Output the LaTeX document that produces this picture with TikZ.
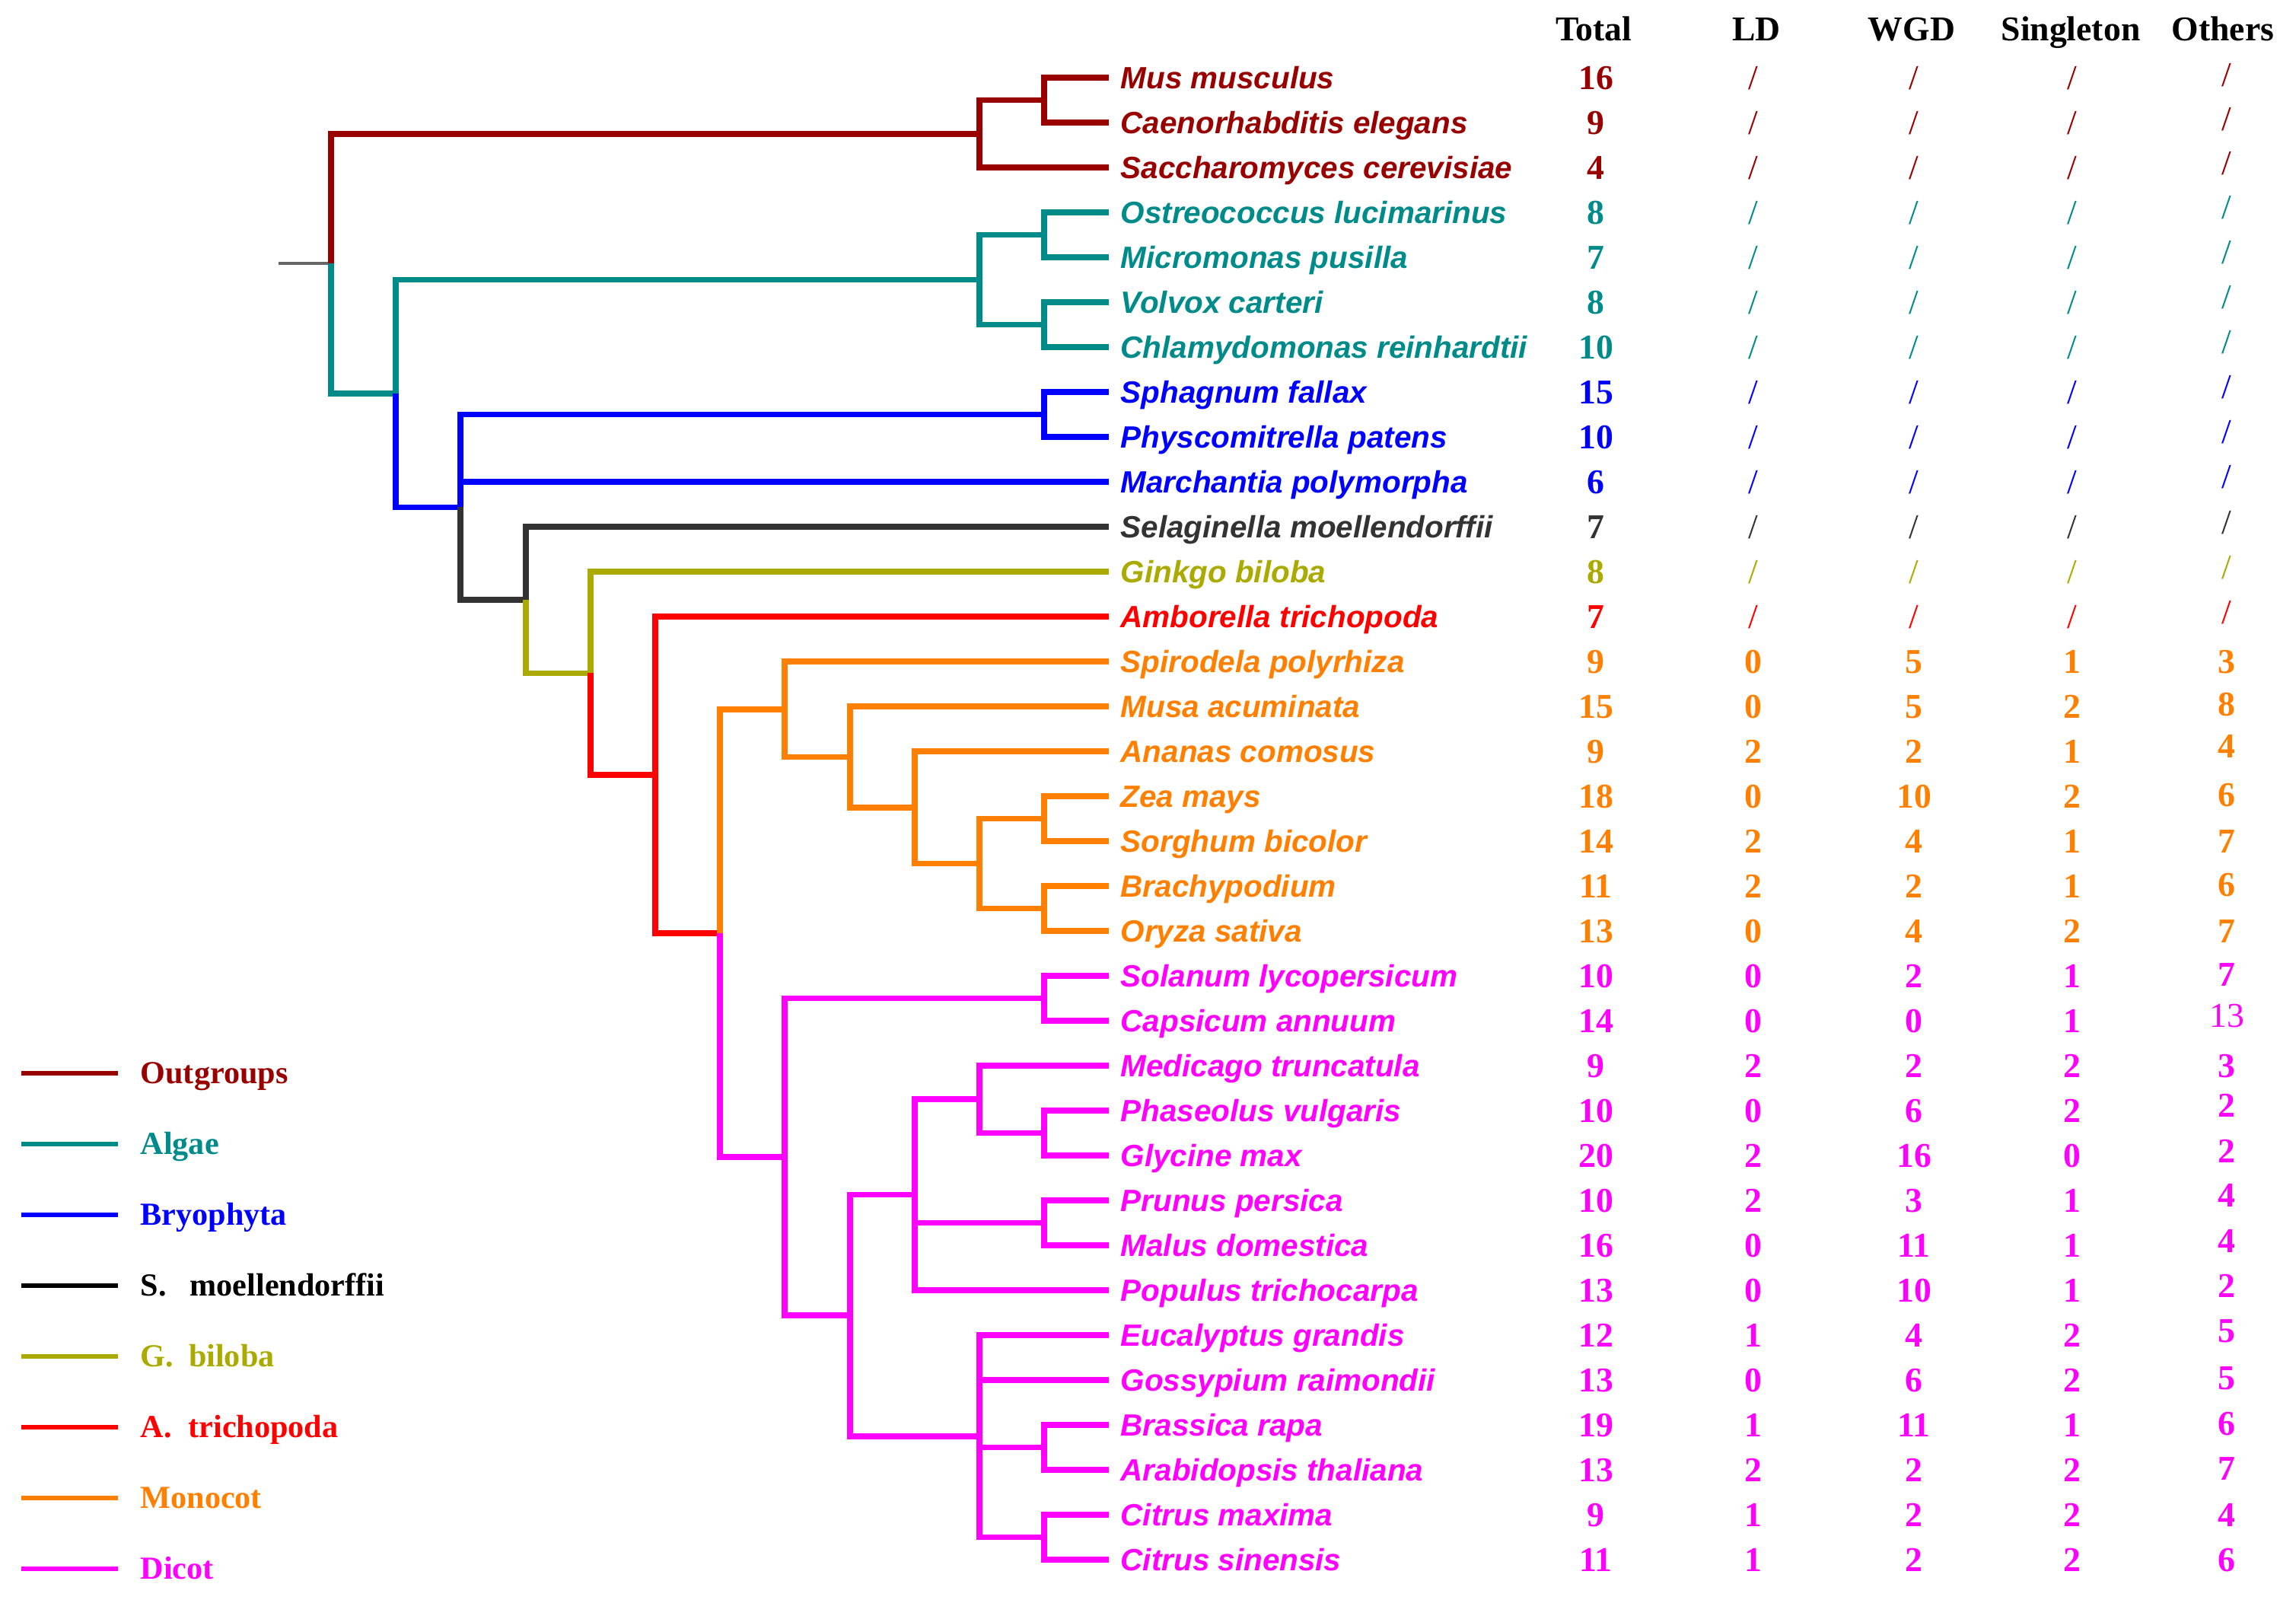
\documentclass[tikz,border=0pt]{standalone}
\usepackage{fontspec}
\setmainfont{Liberation Serif}
\newfontfamily\spfont{Liberation Sans}
\usepackage{tikz}
\usetikzlibrary{positioning}
\definecolor{outg}{RGB}{153,0,0}
\definecolor{alg}{RGB}{0,139,139}
\definecolor{bry}{RGB}{0,0,255}
\definecolor{sel}{RGB}{51,51,51}
\definecolor{gin}{RGB}{170,170,0}
\definecolor{amb}{RGB}{255,0,0}
\definecolor{mon}{RGB}{255,128,0}
\definecolor{dic}{RGB}{255,0,255}

\begin{document}
\begin{tikzpicture}
		[sp/.style		= {anchor=west, inner sep=0pt, inner xsep=1.5mm, font=\spfont\bfseries\itshape\fontsize{11.5}{13}\selectfont, text height=8.2pt, text depth=0pt},
		num/.style		= {inner sep=0pt, font=\bfseries\fontsize{13}{15}\selectfont, text height=8.8pt, text depth=0pt},
		nodat/.style	= {inner sep=0pt, font=\fontsize{13}{15}\selectfont, text height=8.8pt, text depth=0pt},
		head/.style		= {inner sep=0pt, font=\bfseries\fontsize{13}{15}\selectfont, text height=8.6pt, text depth=0pt},
		key/.style		= {anchor=west, inner sep=0pt, inner xsep=0.29cm, font=\bfseries\fontsize{12}{14}\selectfont, text height=7.9pt, text depth=0pt},
		br/.style		= {line width=2.2pt},
		keyline/.style	= {line width=1.8pt}]
		
		\fill[white] (0,0) rectangle (30.17,-21.02);
		\useasboundingbox (0,0) rectangle (30.17,-21.02);
		
		% species
		\node at (14.57,-1.02)	[sp, text=outg]	(s1)	{Mus musculus};
		\node at (14.57,-1.61)	[sp, text=outg]	(s2)	{Caenorhabditis elegans};
		\node at (14.57,-2.20)	[sp, text=outg]	(s3)	{Saccharomyces cerevisiae};
		\node at (14.57,-2.79)	[sp, text=alg]	(s4)	{Ostreococcus lucimarinus};
		\node at (14.57,-3.38)	[sp, text=alg]	(s5)	{Micromonas pusilla};
		\node at (14.57,-3.97)	[sp, text=alg]	(s6)	{Volvox carteri};
		\node at (14.57,-4.56)	[sp, text=alg]	(s7)	{Chlamydomonas reinhardtii};
		\node at (14.57,-5.15)	[sp, text=bry]	(s8)	{Sphagnum fallax};
		\node at (14.57,-5.74)	[sp, text=bry]	(s9)	{Physcomitrella patens};
		\node at (14.57,-6.33)	[sp, text=bry]	(s10)	{Marchantia polymorpha};
		\node at (14.57,-6.92)	[sp, text=sel]	(s11)	{Selaginella moellendorffii};
		\node at (14.57,-7.51)	[sp, text=gin]	(s12)	{Ginkgo biloba};
		\node at (14.57,-8.10)	[sp, text=amb]	(s13)	{Amborella trichopoda};
		\node at (14.57,-8.69)	[sp, text=mon]	(s14)	{Spirodela polyrhiza};
		\node at (14.57,-9.28)	[sp, text=mon]	(s15)	{Musa acuminata};
		\node at (14.57,-9.87)	[sp, text=mon]	(s16)	{Ananas comosus};
		\node at (14.57,-10.46)	[sp, text=mon]	(s17)	{Zea mays};
		\node at (14.57,-11.05)	[sp, text=mon]	(s18)	{Sorghum bicolor};
		\node at (14.57,-11.64)	[sp, text=mon]	(s19)	{Brachypodium};
		\node at (14.57,-12.23)	[sp, text=mon]	(s20)	{Oryza sativa};
		\node at (14.57,-12.82)	[sp, text=dic]	(s21)	{Solanum lycopersicum};
		\node at (14.57,-13.41)	[sp, text=dic]	(s22)	{Capsicum annuum};
		\node at (14.57,-14.00)	[sp, text=dic]	(s23)	{Medicago truncatula};
		\node at (14.57,-14.59)	[sp, text=dic]	(s24)	{Phaseolus vulgaris};
		\node at (14.57,-15.18)	[sp, text=dic]	(s25)	{Glycine max};
		\node at (14.57,-15.77)	[sp, text=dic]	(s26)	{Prunus persica};
		\node at (14.57,-16.36)	[sp, text=dic]	(s27)	{Malus domestica};
		\node at (14.57,-16.95)	[sp, text=dic]	(s28)	{Populus trichocarpa};
		\node at (14.57,-17.54)	[sp, text=dic]	(s29)	{Eucalyptus grandis};
		\node at (14.57,-18.13)	[sp, text=dic]	(s30)	{Gossypium raimondii};
		\node at (14.57,-18.72)	[sp, text=dic]	(s31)	{Brassica rapa};
		\node at (14.57,-19.31)	[sp, text=dic]	(s32)	{Arabidopsis thaliana};
		\node at (14.57,-19.90)	[sp, text=dic]	(s33)	{Citrus maxima};
		\node at (14.57,-20.49)	[sp, text=dic]	(s34)	{Citrus sinensis};
		
		% inner nodes of the tree
		\coordinate (stub)	at (3.66,-3.463);
		\coordinate (root)	at (4.35,-3.463);
		\coordinate (out)	at (12.87,-1.758);
		\coordinate (out1)	at (13.72,-1.315);
		\coordinate (c1)	at (5.20,-5.169);
		\coordinate (alga)	at (12.87,-3.675);
		\coordinate (alg1)	at (13.72,-3.085);
		\coordinate (alg2)	at (13.72,-4.265);
		\coordinate (c2)	at (6.05,-6.664);
		\coordinate (moss)	at (13.72,-5.445);
		\coordinate (c3)	at (6.91,-7.882);
		\coordinate (c4)	at (7.76,-8.844);
		\coordinate (ang)	at (8.61,-10.179);
		\coordinate (md)	at (9.46,-12.258);
		\coordinate (mono)	at (10.31,-9.317);
		\coordinate (mon1)	at (11.17,-9.944);
		\coordinate (mon2)	at (12.02,-10.608);
		\coordinate (mon3)	at (12.87,-11.345);
		\coordinate (mon4)	at (13.72,-10.755);
		\coordinate (mon5)	at (13.72,-11.935);
		\coordinate (dico)	at (10.31,-15.198);
		\coordinate (sol)	at (13.72,-13.115);
		\coordinate (dic1)	at (11.17,-17.282);
		\coordinate (ros1)	at (12.02,-15.696);
		\coordinate (fab)	at (12.87,-14.443);
		\coordinate (fab1)	at (13.72,-14.885);
		\coordinate (rsc)	at (13.72,-16.065);
		\coordinate (ros2)	at (12.87,-18.868);
		\coordinate (bra)	at (13.72,-19.015);
		\coordinate (cit)	at (13.72,-20.195);
		
		% branches
		\draw [line width=1.1pt, black!60] (stub) -- (root);
		\draw [br, outg] (root) |- (out) (out) |- (out1) (out1) |- (s1.west) (out1) |- (s2.west) (out) |- (s3.west);
		\draw [br, alg] (root) |- (c1) (c1) |- (alga) (alga) |- (alg1) (alga) |- (alg2) (alg1) |- (s4.west) (alg1) |- (s5.west) (alg2) |- (s6.west) (alg2) |- (s7.west);
		\draw [br, bry] (c1) |- (c2) (c2) |- (moss) (moss) |- (s8.west) (moss) |- (s9.west) (c2) |- (s10.west);
		\draw [br, sel] (c2) |- (c3) (c3) |- (s11.west);
		\draw [br, gin] (c3) |- (c4) (c4) |- (s12.west);
		\draw [br, amb] (c4) |- (ang) (ang) |- (s13.west) (ang) |- (md);
		\draw [br, mon] (md) |- (mono) (mono) |- (s14.west) (mono) |- (mon1) (mon1) |- (s15.west) (mon1) |- (mon2) (mon2) |- (s16.west) (mon2) |- (mon3) (mon3) |- (mon4) (mon3) |- (mon5) (mon4) |- (s17.west) (mon4) |- (s18.west) (mon5) |- (s19.west) (mon5) |- (s20.west);
		\draw [br, dic] (md) |- (dico) (dico) |- (sol) (sol) |- (s21.west) (sol) |- (s22.west) (dico) |- (dic1) (dic1) |- (ros1) (ros1) |- (fab) (fab) |- (s23.west) (fab) |- (fab1) (fab1) |- (s24.west) (fab1) |- (s25.west) (ros1) |- (rsc) (rsc) |- (s26.west) (rsc) |- (s27.west) (ros1) |- (s28.west);
		\draw [br, dic] (dic1) |- (ros2) (ros2) |- (s29.west) (ros2) |- (s30.west) (ros2) |- (bra) (bra) |- (s31.west) (bra) |- (s32.west) (ros2) |- (cit) (cit) |- (s33.west) (cit) |- (s34.west);
		
		% table
		\node at (20.94,-0.38)	[head]	(h1)	{Total};
		\node at (23.08,-0.38)	[head]	(h2)	{LD};
		\node at (25.12,-0.38)	[head]	(h3)	{WGD};
		\node at (27.21,-0.38)	[head]	(h4)	{Singleton};
		\node at (29.21,-0.38)	[head]	(h5)	{Others};
		
		\node at (20.97,-1.02) [num, text=outg] (t1) {16};	\node at (23.04,-1.02) [nodat, text=outg] (l1) {/};	\node at (25.15,-1.02) [nodat, text=outg] (w1) {/};	\node at (27.23,-1.02) [nodat, text=outg] (n1) {/};	\node at (29.26,-0.98) [nodat, text=outg] (o1) {/};
		\node at (20.97,-1.61) [num, text=outg] (t2) {9};	\node at (23.04,-1.61) [nodat, text=outg] (l2) {/};	\node at (25.15,-1.61) [nodat, text=outg] (w2) {/};	\node at (27.23,-1.61) [nodat, text=outg] (n2) {/};	\node at (29.26,-1.56) [nodat, text=outg] (o2) {/};
		\node at (20.97,-2.20) [num, text=outg] (t3) {4};	\node at (23.04,-2.20) [nodat, text=outg] (l3) {/};	\node at (25.15,-2.20) [nodat, text=outg] (w3) {/};	\node at (27.23,-2.20) [nodat, text=outg] (n3) {/};	\node at (29.26,-2.14) [nodat, text=outg] (o3) {/};
		\node at (20.97,-2.79) [num, text=alg] (t4) {8};	\node at (23.04,-2.79) [nodat, text=alg] (l4) {/};	\node at (25.15,-2.79) [nodat, text=alg] (w4) {/};	\node at (27.23,-2.79) [nodat, text=alg] (n4) {/};	\node at (29.26,-2.72) [nodat, text=alg] (o4) {/};
		\node at (20.97,-3.38) [num, text=alg] (t5) {7};	\node at (23.04,-3.38) [nodat, text=alg] (l5) {/};	\node at (25.15,-3.38) [nodat, text=alg] (w5) {/};	\node at (27.23,-3.38) [nodat, text=alg] (n5) {/};	\node at (29.26,-3.31) [nodat, text=alg] (o5) {/};
		\node at (20.97,-3.97) [num, text=alg] (t6) {8};	\node at (23.04,-3.97) [nodat, text=alg] (l6) {/};	\node at (25.15,-3.97) [nodat, text=alg] (w6) {/};	\node at (27.23,-3.97) [nodat, text=alg] (n6) {/};	\node at (29.26,-3.90) [nodat, text=alg] (o6) {/};
		\node at (20.97,-4.56) [num, text=alg] (t7) {10};	\node at (23.04,-4.56) [nodat, text=alg] (l7) {/};	\node at (25.15,-4.56) [nodat, text=alg] (w7) {/};	\node at (27.23,-4.56) [nodat, text=alg] (n7) {/};	\node at (29.26,-4.49) [nodat, text=alg] (o7) {/};
		\node at (20.97,-5.15) [num, text=bry] (t8) {15};	\node at (23.04,-5.15) [nodat, text=bry] (l8) {/};	\node at (25.15,-5.15) [nodat, text=bry] (w8) {/};	\node at (27.23,-5.15) [nodat, text=bry] (n8) {/};	\node at (29.26,-5.08) [nodat, text=bry] (o8) {/};
		\node at (20.97,-5.74) [num, text=bry] (t9) {10};	\node at (23.04,-5.74) [nodat, text=bry] (l9) {/};	\node at (25.15,-5.74) [nodat, text=bry] (w9) {/};	\node at (27.23,-5.74) [nodat, text=bry] (n9) {/};	\node at (29.26,-5.67) [nodat, text=bry] (o9) {/};
		\node at (20.97,-6.33) [num, text=bry] (t10) {6};	\node at (23.04,-6.33) [nodat, text=bry] (l10) {/};	\node at (25.15,-6.33) [nodat, text=bry] (w10) {/};	\node at (27.23,-6.33) [nodat, text=bry] (n10) {/};	\node at (29.26,-6.26) [nodat, text=bry] (o10) {/};
		\node at (20.97,-6.92) [num, text=sel] (t11) {7};	\node at (23.04,-6.92) [nodat, text=sel] (l11) {/};	\node at (25.15,-6.92) [nodat, text=sel] (w11) {/};	\node at (27.23,-6.92) [nodat, text=sel] (n11) {/};	\node at (29.26,-6.86) [nodat, text=sel] (o11) {/};
		\node at (20.97,-7.51) [num, text=gin] (t12) {8};	\node at (23.04,-7.51) [nodat, text=gin] (l12) {/};	\node at (25.15,-7.51) [nodat, text=gin] (w12) {/};	\node at (27.23,-7.51) [nodat, text=gin] (n12) {/};	\node at (29.26,-7.45) [nodat, text=gin] (o12) {/};
		\node at (20.97,-8.10) [num, text=amb] (t13) {7};	\node at (23.04,-8.10) [nodat, text=amb] (l13) {/};	\node at (25.15,-8.10) [nodat, text=amb] (w13) {/};	\node at (27.23,-8.10) [nodat, text=amb] (n13) {/};	\node at (29.26,-8.04) [nodat, text=amb] (o13) {/};
		\node at (20.97,-8.69) [num, text=mon] (t14) {9};	\node at (23.04,-8.69) [num, text=mon] (l14) {0};	\node at (25.15,-8.69) [num, text=mon] (w14) {5};	\node at (27.23,-8.69) [num, text=mon] (n14) {1};	\node at (29.26,-8.69) [num, text=mon] (o14) {3};
		\node at (20.97,-9.28) [num, text=mon] (t15) {15};	\node at (23.04,-9.28) [num, text=mon] (l15) {0};	\node at (25.15,-9.28) [num, text=mon] (w15) {5};	\node at (27.23,-9.28) [num, text=mon] (n15) {2};	\node at (29.26,-9.25) [num, text=mon] (o15) {8};
		\node at (20.97,-9.87) [num, text=mon] (t16) {9};	\node at (23.04,-9.87) [num, text=mon] (l16) {2};	\node at (25.15,-9.87) [num, text=mon] (w16) {2};	\node at (27.23,-9.87) [num, text=mon] (n16) {1};	\node at (29.26,-9.80) [num, text=mon] (o16) {4};
		\node at (20.97,-10.46) [num, text=mon] (t17) {18};	\node at (23.04,-10.46) [num, text=mon] (l17) {0};	\node at (25.15,-10.46) [num, text=mon] (w17) {10};	\node at (27.23,-10.46) [num, text=mon] (n17) {2};	\node at (29.26,-10.44) [num, text=mon] (o17) {6};
		\node at (20.97,-11.05) [num, text=mon] (t18) {14};	\node at (23.04,-11.05) [num, text=mon] (l18) {2};	\node at (25.15,-11.05) [num, text=mon] (w18) {4};	\node at (27.23,-11.05) [num, text=mon] (n18) {1};	\node at (29.26,-11.05) [num, text=mon] (o18) {7};
		\node at (20.97,-11.64) [num, text=mon] (t19) {11};	\node at (23.04,-11.64) [num, text=mon] (l19) {2};	\node at (25.15,-11.64) [num, text=mon] (w19) {2};	\node at (27.23,-11.64) [num, text=mon] (n19) {1};	\node at (29.26,-11.62) [num, text=mon] (o19) {6};
		\node at (20.97,-12.23) [num, text=mon] (t20) {13};	\node at (23.04,-12.23) [num, text=mon] (l20) {0};	\node at (25.15,-12.23) [num, text=mon] (w20) {4};	\node at (27.23,-12.23) [num, text=mon] (n20) {2};	\node at (29.26,-12.23) [num, text=mon] (o20) {7};
		\node at (20.97,-12.82) [num, text=dic] (t21) {10};	\node at (23.04,-12.82) [num, text=dic] (l21) {0};	\node at (25.15,-12.82) [num, text=dic] (w21) {2};	\node at (27.23,-12.82) [num, text=dic] (n21) {1};	\node at (29.26,-12.80) [num, text=dic] (o21) {7};
		\node at (20.97,-13.41) [num, text=dic] (t22) {14};	\node at (23.04,-13.41) [num, text=dic] (l22) {0};	\node at (25.15,-13.41) [num, text=dic] (w22) {0};	\node at (27.23,-13.41) [num, text=dic] (n22) {1};	\node at (29.26,-13.34) [nodat, text=dic] (o22) {13};
		\node at (20.97,-14.00) [num, text=dic] (t23) {9};	\node at (23.04,-14.00) [num, text=dic] (l23) {2};	\node at (25.15,-14.00) [num, text=dic] (w23) {2};	\node at (27.23,-14.00) [num, text=dic] (n23) {2};	\node at (29.26,-14.00) [num, text=dic] (o23) {3};
		\node at (20.97,-14.59) [num, text=dic] (t24) {10};	\node at (23.04,-14.59) [num, text=dic] (l24) {0};	\node at (25.15,-14.59) [num, text=dic] (w24) {6};	\node at (27.23,-14.59) [num, text=dic] (n24) {2};	\node at (29.26,-14.52) [num, text=dic] (o24) {2};
		\node at (20.97,-15.18) [num, text=dic] (t25) {20};	\node at (23.04,-15.18) [num, text=dic] (l25) {2};	\node at (25.15,-15.18) [num, text=dic] (w25) {16};	\node at (27.23,-15.18) [num, text=dic] (n25) {0};	\node at (29.26,-15.12) [num, text=dic] (o25) {2};
		\node at (20.97,-15.77) [num, text=dic] (t26) {10};	\node at (23.04,-15.77) [num, text=dic] (l26) {2};	\node at (25.15,-15.77) [num, text=dic] (w26) {3};	\node at (27.23,-15.77) [num, text=dic] (n26) {1};	\node at (29.26,-15.70) [num, text=dic] (o26) {4};
		\node at (20.97,-16.36) [num, text=dic] (t27) {16};	\node at (23.04,-16.36) [num, text=dic] (l27) {0};	\node at (25.15,-16.36) [num, text=dic] (w27) {11};	\node at (27.23,-16.36) [num, text=dic] (n27) {1};	\node at (29.26,-16.30) [num, text=dic] (o27) {4};
		\node at (20.97,-16.95) [num, text=dic] (t28) {13};	\node at (23.04,-16.95) [num, text=dic] (l28) {0};	\node at (25.15,-16.95) [num, text=dic] (w28) {10};	\node at (27.23,-16.95) [num, text=dic] (n28) {1};	\node at (29.26,-16.89) [num, text=dic] (o28) {2};
		\node at (20.97,-17.54) [num, text=dic] (t29) {12};	\node at (23.04,-17.54) [num, text=dic] (l29) {1};	\node at (25.15,-17.54) [num, text=dic] (w29) {4};	\node at (27.23,-17.54) [num, text=dic] (n29) {2};	\node at (29.26,-17.48) [num, text=dic] (o29) {5};
		\node at (20.97,-18.13) [num, text=dic] (t30) {13};	\node at (23.04,-18.13) [num, text=dic] (l30) {0};	\node at (25.15,-18.13) [num, text=dic] (w30) {6};	\node at (27.23,-18.13) [num, text=dic] (n30) {2};	\node at (29.26,-18.10) [num, text=dic] (o30) {5};
		\node at (20.97,-18.72) [num, text=dic] (t31) {19};	\node at (23.04,-18.72) [num, text=dic] (l31) {1};	\node at (25.15,-18.72) [num, text=dic] (w31) {11};	\node at (27.23,-18.72) [num, text=dic] (n31) {1};	\node at (29.26,-18.70) [num, text=dic] (o31) {6};
		\node at (20.97,-19.31) [num, text=dic] (t32) {13};	\node at (23.04,-19.31) [num, text=dic] (l32) {2};	\node at (25.15,-19.31) [num, text=dic] (w32) {2};	\node at (27.23,-19.31) [num, text=dic] (n32) {2};	\node at (29.26,-19.29) [num, text=dic] (o32) {7};
		\node at (20.97,-19.90) [num, text=dic] (t33) {9};	\node at (23.04,-19.90) [num, text=dic] (l33) {1};	\node at (25.15,-19.90) [num, text=dic] (w33) {2};	\node at (27.23,-19.90) [num, text=dic] (n33) {2};	\node at (29.26,-19.90) [num, text=dic] (o33) {4};
		\node at (20.97,-20.49) [num, text=dic] (t34) {11};	\node at (23.04,-20.49) [num, text=dic] (l34) {1};	\node at (25.15,-20.49) [num, text=dic] (w34) {2};	\node at (27.23,-20.49) [num, text=dic] (n34) {2};	\node at (29.26,-20.49) [num, text=dic] (o34) {6};
		
		% legend
		\coordinate (k1) at (0.28,-14.10);
		\coordinate (k2) at (0.28,-15.03);
		\coordinate (k3) at (0.28,-15.96);
		\coordinate (k4) at (0.28,-16.89);
		\coordinate (k5) at (0.28,-17.82);
		\coordinate (k6) at (0.28,-18.75);
		\coordinate (k7) at (0.28,-19.68);
		\coordinate (k8) at (0.28,-20.61);
		
		\node at (1.55,-14.10)	[key, text=outg]	(g1)	{Outgroups};
		\node at (1.55,-15.03)	[key, text=alg]		(g2)	{Algae};
		\node at (1.55,-15.96)	[key, text=bry]		(g3)	{Bryophyta};
		\node at (1.55,-16.89)	[key, text=black]	(g4)	{S.\hspace{0.31cm}moellendorffii};
		\node at (1.55,-17.82)	[key, text=gin]		(g5)	{G.\hspace{0.2cm}biloba};
		\node at (1.55,-18.75)	[key, text=amb]		(g6)	{A.\hspace{0.22cm}trichopoda};
		\node at (1.55,-19.68)	[key, text=mon]		(g7)	{Monocot};
		\node at (1.55,-20.61)	[key, text=dic]		(g8)	{Dicot};
		
		\draw [keyline, outg] (k1) -- (g1.west);
		\draw [keyline, alg] (k2) -- (g2.west);
		\draw [keyline, bry] (k3) -- (g3.west);
		\draw [keyline, black] (k4) -- (g4.west);
		\draw [keyline, gin] (k5) -- (g5.west);
		\draw [keyline, amb] (k6) -- (g6.west);
		\draw [keyline, mon] (k7) -- (g7.west);
		\draw [keyline, dic] (k8) -- (g8.west);
		
\end{tikzpicture}
\end{document}
